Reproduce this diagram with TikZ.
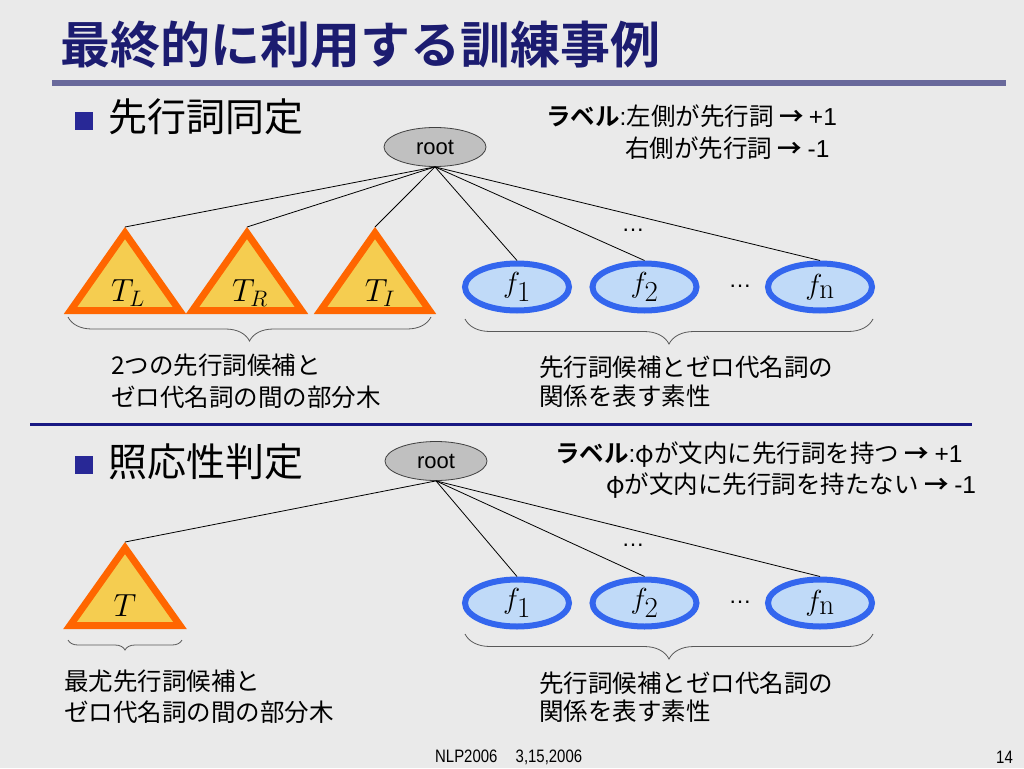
\RequirePackage{fix-cm}
\documentclass[tikz,border=0pt]{standalone}
\usepackage[no-math]{fontspec}
\setmainfont{Liberation Sans}
\newfontfamily\cjk{Noto Sans CJK JP}
\newfontfamily\cjkb{Noto Sans CJK JP Bold}
\usetikzlibrary{shapes.geometric,decorations.pathreplacing}
\definecolor{bg}{RGB}{234,234,234}
\definecolor{titlec}{RGB}{28,28,112}
\definecolor{rulec}{RGB}{105,105,155}
\definecolor{sepc}{RGB}{24,24,130}
\definecolor{bulletc}{RGB}{40,40,150}
\definecolor{triorange}{RGB}{255,102,0}
\definecolor{triyellow}{RGB}{245,205,80}
\definecolor{fblue}{RGB}{51,102,238}
\definecolor{flight}{RGB}{192,218,248}
\definecolor{rootgray}{RGB}{192,192,192}
\tikzset{
  tri/.style={draw=triorange, fill=triyellow, line width=7pt},
  fell/.style={ellipse, draw=fblue, fill=flight, line width=6pt, minimum width=104pt, minimum height=47pt, inner sep=0pt, font=\fontsize{29}{29}\selectfont},
  rootn/.style={ellipse, draw=black!75, fill=rootgray, line width=0.8pt, minimum width=102pt, minimum height=39pt, inner sep=0pt, font=\fontsize{22}{22}\selectfont},
  conn/.style={draw=black, line width=0.8pt},
  brc/.style={decorate, decoration={brace, mirror, amplitude=#1}, draw=black!65, line width=0.8pt},
  jt/.style={anchor=west, inner sep=0pt, font=\cjk\fontsize{24.5}{24.5}\selectfont},
  lab/.style={anchor=west, inner sep=0pt, font=\cjk\fontsize{24.5}{24.5}\selectfont},
  head/.style={anchor=west, inner sep=0pt, font=\cjk\fontsize{39}{39}\selectfont},
  bul/.style={fill=bulletc, minimum size=18pt, inner sep=0pt},
  mth/.style={inner sep=0pt, font=\fontsize{32}{32}\selectfont},
  dots/.style={inner sep=0pt, font=\fontsize{23}{23}\selectfont},
}
\newcommand{\arr}{{\cjkb →}}
\begin{document}
\begin{tikzpicture}[x=1pt,y=-1pt]
\fill[bg] (0,0) rectangle (1024,768);
\useasboundingbox (0,0) rectangle (1024,768);
% title
\node[anchor=west, inner sep=0pt, text=titlec, font=\cjkb\fontsize{50}{50}\selectfont] (title) at (60,45) {最終的に利用する訓練事例};
\fill[rulec] (52,80) rectangle (1006,86);
\fill[sepc] (30,423) rectangle (972,426);

% ===== section 1 =====
\node[bul] (b1) at (84,121) {};
\node[head] (h1) at (108,117) {先行詞同定};
\node[rootn] (r1) at (435,147) {root};
\node[lab] (l1a) at (546,116) {{\cjkb ラベル}{\rmfamily :}左側が先行詞 \arr\ {\rmfamily +1}};
\node[lab] (l1b) at (625,148) {右側が先行詞 \arr\ {\rmfamily -1}};

\draw[tri] (70.5,310.5) -- (125,233) -- (179.5,310.5) -- cycle;
\draw[tri] (192.5,310.5) -- (247,233) -- (301.5,310.5) -- cycle;
\draw[tri] (320.5,310.5) -- (375,233) -- (429.5,310.5) -- cycle;
\coordinate (tlA) at (125,227);
\coordinate (trA) at (247,227);
\coordinate (tiA) at (375,227);
\node[mth] (tl) at (128,293) {$T_L$};
\node[mth] (tr) at (250,293) {$T_R$};
\node[mth] (ti) at (380,293) {$T_I$};

\node[fell] (f1) at (517,287) {$f_{\textstyle 1}$};
\node[fell] (f2) at (644.5,287) {$f_{\textstyle 2}$};
\node[fell] (fn) at (820,287) {$f_{\textstyle\mathrm{n}}$};
\node[dots] (d1) at (740,286) {…};
\node[dots] (d2) at (633,230) {…};

\draw[conn] (r1.south) -- (tlA);
\draw[conn] (r1.south) -- (trA);
\draw[conn] (r1.south) -- (tiA);
\draw[conn] (r1.south) -- (f1.north);
\draw[conn] (r1.south) -- (f2.north);
\draw[conn] (r1.south) -- (fn.north);

\coordinate (br1a) at (68,317);
\coordinate (br1b) at (431,317);
\coordinate (br2a) at (465,319);
\coordinate (br2b) at (873,319);
\draw[brc=24pt] (br1a) -- (br1b);
\draw[brc=25pt] (br2a) -- (br2b);

\node[jt] (t1a) at (111,365) {2つの先行詞候補と};
\node[jt] (t1b) at (111,397) {ゼロ代名詞の間の部分木};
\node[jt] (t2a) at (539,367) {先行詞候補とゼロ代名詞の};
\node[jt] (t2b) at (539,396) {関係を表す素性};

% ===== section 2 =====
\node[bul] (b2) at (84,465) {};
\node[head] (h2) at (108,462) {照応性判定};
\node[rootn] (r2) at (436,461) {root};
\node[lab] (l2a) at (555,455) {{\cjkb ラベル}{\rmfamily :}φが文内に先行詞を持つ \arr\ {\rmfamily +1}};
\node[lab] (l2b) at (606,486) {φが文内に先行詞を持たない \arr\ {\rmfamily -1}};

\draw[tri] (70,625.5) -- (125,548) -- (180,625.5) -- cycle;
\coordinate (tA) at (125,542);
\node[mth] (t) at (125,606) {$T$};

\node[fell] (g1) at (517,603) {$f_{\textstyle 1}$};
\node[fell] (g2) at (644.5,603) {$f_{\textstyle 2}$};
\node[fell] (gn) at (820,603) {$f_{\textstyle\mathrm{n}}$};
\node[dots] (e1) at (740,602) {…};
\node[dots] (e2) at (633,545) {…};

\draw[conn] (r2.south) -- (tA);
\draw[conn] (r2.south) -- (g1.north);
\draw[conn] (r2.south) -- (g2.north);
\draw[conn] (r2.south) -- (gn.north);

\coordinate (br3a) at (68,640);
\coordinate (br3b) at (182,640);
\coordinate (br4a) at (465,634);
\coordinate (br4b) at (873,634);
\draw[brc=10pt] (br3a) -- (br3b);
\draw[brc=25pt] (br4a) -- (br4b);

\node[jt] (t3a) at (64,681) {最尤先行詞候補と};
\node[jt] (t3b) at (64,712) {ゼロ代名詞の間の部分木};
\node[jt] (t4a) at (539,683) {先行詞候補とゼロ代名詞の};
\node[jt] (t4b) at (539,711) {関係を表す素性};

% footer
\node[anchor=west, inner sep=0pt, font=\fontsize{18}{18}\selectfont, xscale=0.83] (foot) at (435,757) {NLP2006\hspace{22pt}3,15,2006};
\node[anchor=east, inner sep=0pt, font=\fontsize{18}{18}\selectfont, xscale=0.83] (pg) at (1013,757) {14};
\end{tikzpicture}
\end{document}
